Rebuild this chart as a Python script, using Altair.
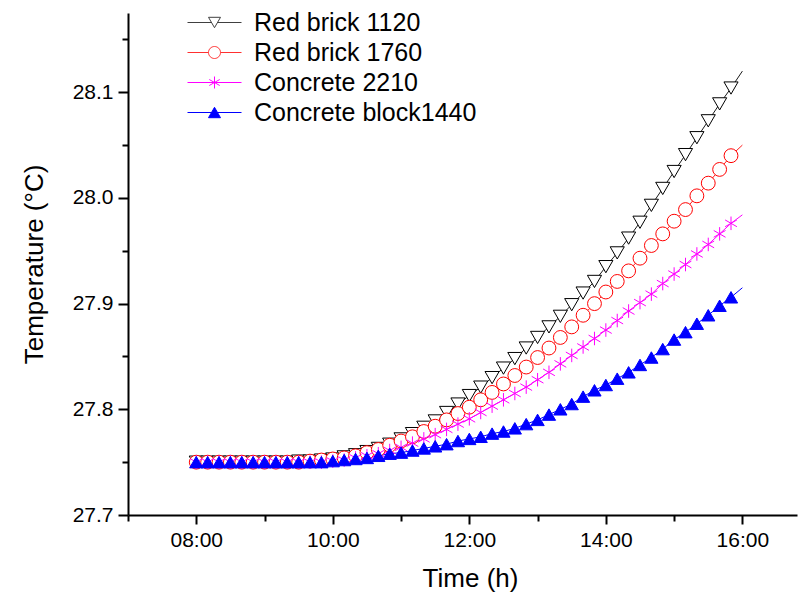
import altair as alt
import pandas as pd

times = [
    "08:00", "08:10", "08:20", "08:30", "08:40", "08:50",
    "09:00", "09:10", "09:20", "09:30", "09:40", "09:50",
    "10:00", "10:10", "10:20", "10:30", "10:40", "10:50",
    "11:00", "11:10", "11:20", "11:30", "11:40", "11:50",
    "12:00", "12:10", "12:20", "12:30", "12:40", "12:50",
    "13:00", "13:10", "13:20", "13:30", "13:40", "13:50",
    "14:00", "14:10", "14:20", "14:30", "14:40", "14:50",
    "15:00", "15:10", "15:20", "15:30", "15:40", "15:50",
    "16:00",
]

series_names = ["Red brick 1120", "Red brick 1760", "Concrete 2210", "Concrete block1440"]

red_brick_1120 = [
    27.750, 27.750, 27.750, 27.750, 27.750, 27.750,
    27.750, 27.750, 27.750, 27.751, 27.751, 27.752,
    27.753, 27.755, 27.757, 27.760, 27.763, 27.767,
    27.772, 27.777, 27.783, 27.789, 27.797, 27.805,
    27.813, 27.821, 27.830, 27.839, 27.848, 27.858,
    27.868, 27.878, 27.888, 27.899, 27.910, 27.921,
    27.935, 27.948, 27.962, 27.977, 27.993, 28.009,
    28.025, 28.041, 28.057, 28.073, 28.089, 28.104,
    28.120,
]
red_brick_1760 = [
    27.750, 27.750, 27.750, 27.750, 27.750, 27.750,
    27.750, 27.750, 27.750, 27.750, 27.751, 27.752,
    27.753, 27.754, 27.756, 27.759, 27.762, 27.766,
    27.770, 27.774, 27.779, 27.784, 27.790, 27.796,
    27.802, 27.809, 27.816, 27.824, 27.832, 27.840,
    27.849, 27.858, 27.868, 27.878, 27.889, 27.900,
    27.911, 27.921, 27.931, 27.943, 27.955, 27.966,
    27.978, 27.989, 28.002, 28.014, 28.027, 28.040,
    28.050,
]
concrete_2210 = [
    27.750, 27.750, 27.750, 27.750, 27.750, 27.750,
    27.750, 27.750, 27.750, 27.750, 27.750, 27.750,
    27.751, 27.752, 27.754, 27.756, 27.758, 27.761,
    27.764, 27.768, 27.772, 27.776, 27.781, 27.786,
    27.791, 27.797, 27.803, 27.809, 27.815, 27.821,
    27.828, 27.835, 27.843, 27.851, 27.859, 27.867,
    27.875, 27.884, 27.893, 27.901, 27.909, 27.919,
    27.928, 27.937, 27.947, 27.956, 27.966, 27.976,
    27.984,
]
concrete_block_1440 = [
    27.750, 27.750, 27.750, 27.750, 27.750, 27.750,
    27.750, 27.750, 27.750, 27.750, 27.750, 27.750,
    27.751, 27.752, 27.753, 27.754, 27.756, 27.758,
    27.759, 27.761, 27.763, 27.765, 27.767, 27.770,
    27.772, 27.774, 27.777, 27.779, 27.782, 27.786,
    27.790, 27.795, 27.800, 27.805, 27.812, 27.818,
    27.823, 27.829, 27.835, 27.842, 27.849, 27.857,
    27.866, 27.873, 27.881, 27.889, 27.898, 27.906,
    27.915,
]

x_tick_values = [7, 8, 9, 10, 11, 12, 13, 14, 15, 16]
y_tick_values = [27.7, 27.75, 27.8, 27.85, 27.9, 27.95, 28.0, 28.05, 28.1, 28.15]

line_colors = ["#1a1a1a", "#FF2020", "#FF00FF", "#0000FF"]
legend_line_colors = ["#404040", "#FF3030", "#FF00FF", "#0000FF"]
marker_strokes = ["#000000", "#FF0000", "#FF00FF", "#0000FF"]
marker_fills = ["#FFFFFF", "#FFFFFF", "#FF00FF", "#0000FF"]
asterisk = "M0,-1L0,1M-0.87,-0.5L0.87,0.5M-0.87,0.5L0.87,-0.5"
marker_shapes = ["triangle-down", "circle", asterisk, "triangle-up"]
marker_sizes = [200, 175, 230, 260]
legend_shapes = [
    "M-4.5,0L-0.5,0M0.5,0L4.5,0M-1,-0.866L1,-0.866L0,0.866Z",
    "M-4.5,0L-1,0M1,0L4.5,0M1,0A1,1,0,1,1,-1,0A1,1,0,1,1,1,0Z",
    "M-4.5,0L4.5,0" + "M0,-1L0,1M-0.87,-0.5L0.87,0.5M-0.87,0.5L0.87,-0.5",
    "M-4.5,0L4.5,0M0,-0.866L1,0.866L-1,0.866Z",
]

rows = []
for name, vals in zip(series_names, [red_brick_1120, red_brick_1760, concrete_2210, concrete_block_1440]):
    for t, v in zip(times, vals):
        h, m = t.split(":")
        rows.append({"series": name, "time": t, "hour": int(h) + int(m) / 60.0, "temp": v})
df = pd.DataFrame(rows)

FONT = "Liberation Sans"

x_scale = alt.Scale(domain=[7, 16.8], nice=False, zero=False)
y_scale = alt.Scale(domain=[27.7, 28.175], nice=False, zero=False)

x_axis = alt.Axis(
    values=x_tick_values,
    labelExpr="datum.value % 2 == 0 ? (datum.value < 10 ? '0' : '') + datum.value + ':00' : ''",
    tickSize={"condition": {"test": "datum.value % 2 == 0", "value": 9}, "value": 6},
    labelFontSize=21, labelFont=FONT, labelColor="#000000", labelPadding=5,
    labelOverlap=False, labelFlush=False,
    title="Time (h)", titleFontSize=26, titleFont=FONT, titleFontWeight="normal",
    titleColor="#000000", titleX=342, titleY=71, titleBaseline="alphabetic",
    domainColor="#000000", domainWidth=2, tickColor="#000000", tickWidth=2, grid=False,
)
y_axis = alt.Axis(
    values=y_tick_values,
    labelExpr="round(datum.value * 100) % 10 == 0 ? format(datum.value, '.1f') : ''",
    tickSize={"condition": {"test": "round(datum.value * 100) % 10 == 0", "value": 10}, "value": 6},
    labelFontSize=21, labelFont=FONT, labelColor="#000000", labelPadding=5,
    labelOverlap=False, labelFlush=False,
    title="Temperature (\u00b0C)", titleFontSize=26, titleFont=FONT, titleFontWeight="normal",
    titleColor="#000000", titleX=-94, titleY=251, titleBaseline="middle", titleAlign="center",
    domainColor="#000000", domainWidth=2, tickColor="#000000", tickWidth=2, grid=False,
)

X = alt.X("hour:Q", scale=x_scale, axis=x_axis)
Y = alt.Y("temp:Q", scale=y_scale, axis=y_axis)

lines = alt.Chart(df).mark_line(strokeWidth=1, opacity=1).encode(
    x=X, y=Y,
    stroke=alt.Stroke("series:N", scale=alt.Scale(domain=series_names, range=line_colors), legend=None),
)

points = alt.Chart(df).transform_filter("datum.hour < 15.95").mark_point(opacity=1, strokeWidth=1).encode(
    x=X, y=Y,
    shape=alt.Shape("series:N", scale=alt.Scale(domain=series_names, range=marker_shapes), legend=None),
    stroke=alt.Stroke("series:N", scale=alt.Scale(domain=series_names, range=marker_strokes), legend=None),
    fill=alt.Fill("series:N", scale=alt.Scale(domain=series_names, range=marker_fills), legend=None),
    size=alt.Size("series:N", scale=alt.Scale(domain=series_names, range=marker_sizes), legend=None),
)

leg = alt.Legend(
    orient="none", legendX=74, legendY=-3, title=None,
    labelFont=FONT, labelFontSize=25, labelColor="#000000", labelLimit=400,
    symbolSize=144, symbolStrokeWidth=1, symbolOpacity=1,
    labelOffset=27, rowPadding=4, padding=0,
)

legend_layer = alt.Chart(df).transform_filter("datum.temp < 0").mark_point(opacity=1, strokeWidth=1).encode(
    shape=alt.Shape("series:N", scale=alt.Scale(domain=series_names, range=legend_shapes), legend=leg),
    stroke=alt.Stroke("series:N", scale=alt.Scale(domain=series_names, range=legend_line_colors), legend=leg),
    fill=alt.Fill("series:N", scale=alt.Scale(domain=series_names, range=marker_fills), legend=leg),
)

chart = alt.layer(lines, points, legend_layer).resolve_scale(
    shape="independent", stroke="independent", fill="independent", size="independent"
).properties(
    width=669, height=502,
    padding={"left": 128, "top": 13, "right": 3, "bottom": 79},
    autosize=alt.AutoSizeParams(type="none"),
    background="#FFFFFF",
).configure_view(stroke="transparent")

chart.save("out.html", embed_options={"renderer": "svg", "actions": False})
